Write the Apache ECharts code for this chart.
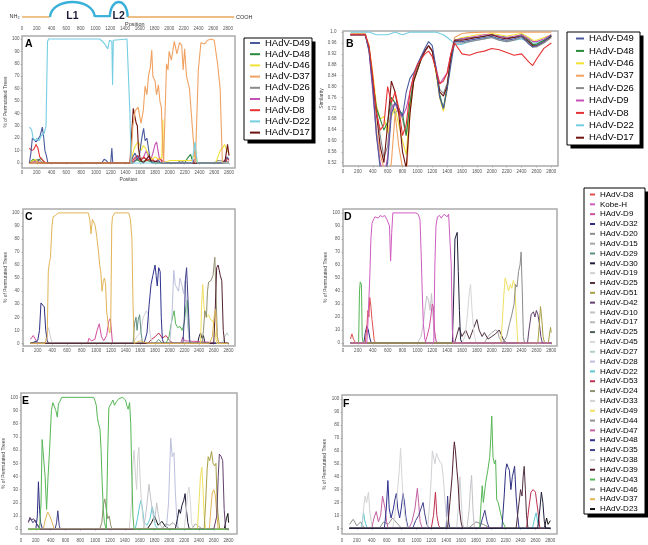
<!DOCTYPE html>
<html>
<head>
<meta charset="utf-8">
<script src="https://cdn.jsdelivr.net/npm/echarts@6/dist/echarts.min.js"></script>
<style>html,body{margin:0;padding:0;background:#fff}#chart{width:648px;height:545px}</style>
</head>
<body>
<div id="chart"></div>
<script>
// ---- ticks ----
const POS_TICKS = [0,200,400,600,800,1000,1200,1400,1600,1800,2000,2200,2400,2600,2800];
const PCT_TICKS = [0,10,20,30,40,50,60,70,80,90,100];
const SIM_TICKS = [0.52,0.56,0.60,0.64,0.68,0.72,0.76,0.80,0.84,0.88,0.92,0.96,1.0];

// ---- gene schematic (positions) ----
const DOMAINS = [
  { kind: 0, from: 0, to: 380 },
  { kind: 1, from: 380, to: 990, label: 'L1' },
  { kind: 2, from: 990, to: 1193 },
  { kind: 1, from: 1193, to: 1437, label: 'L2' },
  { kind: 0, from: 1437, to: 2885 }
];

// ---- legend names ----
const AB_NAMES = ['HAdV-D49','HAdV-D48','HAdV-D46','HAdV-D37','HAdV-D26','HAdV-D9','HAdV-D8','HAdV-D22','HAdV-D17'];
const BIG_NAMES_1 = ['HAdV-D8','Kobe-H','HAdV-D9','HAdV-D32','HAdV-D20','HAdV-D15','HAdV-D29','HAdV-D30','HAdV-D19','HAdV-D25','HAdV-D51','HAdV-D42','HAdV-D10','HAdV-D17'];
const BIG_NAMES_2 = ['HAdV-D25','HAdV-D45','HAdV-D27','HAdV-D28','HAdV-D22','HAdV-D53','HAdV-D24','HAdV-D33','HAdV-D49','HAdV-D44','HAdV-D47','HAdV-D48','HAdV-D35','HAdV-D38','HAdV-D39','HAdV-D43','HAdV-D46','HAdV-D37','HAdV-D23'];

// ---- panel A: bootscan, % of permutated trees ----
const A_D49 = [[100,0],[120,8],[140,20],[165,21],[190,17],[215,19],[245,22],[275,29],[295,20],[310,10],[330,6],[350,0],[1080,0],[1110,3],[1140,2],[1170,0],[1200,0],[1215,12],[1228,0],[1470,0],[1500,5],[1530,8],[1560,3],[1590,7],[1620,20],[1645,28],[1665,18],[1690,20],[1705,21],[1730,4],[1760,0],[1850,2],[1880,0],[2740,0],[2770,5],[2800,3]];
const A_D48 = [[100,0],[150,3],[200,1],[260,4],[300,0],[1500,0],[1550,3],[1600,1],[1700,2],[1800,0],[2200,0],[2240,4],[2280,7],[2300,3],[2340,0],[2800,0]];
const A_D46 = [[100,0],[180,3],[220,0],[1480,0],[1500,8],[1520,12],[1545,15],[1565,17],[1590,15],[1610,10],[1640,14],[1670,12],[1700,8],[1730,5],[1760,3],[1800,5],[1850,3],[1890,4],[1905,35],[1915,0],[2000,2],[2300,2],[2350,10],[2370,0],[2620,0],[2650,5],[2680,10],[2710,12],[2740,15],[2770,10],[2800,8]];
const A_D37 = [[100,0],[1470,0],[1500,30],[1530,42],[1570,45],[1610,32],[1640,42],[1665,62],[1690,55],[1710,70],[1735,77],[1755,91],[1770,70],[1800,66],[1820,55],[1845,63],[1865,50],[1885,45],[1905,10],[1915,0],[1935,40],[1955,80],[1975,75],[1990,90],[2020,83],[2060,98],[2095,88],[2130,97],[2160,95],[2180,75],[2200,92],[2225,70],[2265,60],[2290,40],[2315,20],[2345,0],[2365,0],[2385,75],[2420,97],[2470,96],[2510,99],[2560,100],[2600,99],[2645,80],[2680,60],[2710,0],[2800,0]];
const A_D26 = [[100,0],[160,2],[230,3],[280,0],[1480,0],[1540,2],[1620,4],[1700,3],[1760,0],[2100,0],[2150,2],[2200,0],[2600,0],[2650,2],[2800,1]];
const A_D9 = [[100,0],[200,2],[250,0],[1500,0],[1530,3],[1560,6],[1600,2],[1640,4],[1680,10],[1710,5],[1740,2],[1770,8],[1800,15],[1820,17],[1840,10],[1860,3],[1900,2],[1950,0],[2300,0],[2330,3],[2360,0],[2800,0]];
const A_D8 = [[100,12],[130,10],[160,11],[190,15],[215,12],[240,5],[270,3],[300,1],[330,0],[1480,0],[1520,4],[1560,6],[1600,2],[1650,5],[1690,2],[1750,4],[1800,1],[1870,4],[1900,0],[2750,0],[2780,4],[2800,2]];
const A_D22 = [[100,29],[130,27],[150,20],[180,18],[200,20],[230,18],[260,22],[300,24],[325,30],[345,98],[360,100],[1050,100],[1090,98],[1130,95],[1160,92],[1185,99],[1205,100],[1215,98],[1225,63],[1235,99],[1250,100],[1420,100],[1440,99],[1460,40],[1475,0],[2300,0],[2340,17],[2370,0],[2800,0]];
const A_D17 = [[100,0],[1460,0],[1480,20],[1505,44],[1525,38],[1545,32],[1560,30],[1575,12],[1600,3],[1640,0],[1720,6],[1740,2],[1900,0],[2720,0],[2750,3],[2780,15],[2800,6]];

// ---- panel B: similarity ----
const B_POS = [100,200,300,350,400,450,500,550,600,650,700,750,800,850,900,950,1000,1050,1100,1150,1200,1250,1300,1350,1400,1450,1500,1600,1700,1800,1900,2000,2100,2200,2300,2400,2500,2550,2600,2700,2800];
const B_D49 = [.99,.99,.99,.93,.80,.62,.50,.47,.52,.70,.74,.72,.69,.78,.83,.85,.88,.91,.94,.965,.95,.87,.76,.72,.79,.88,.965,.965,.97,.975,.98,.985,.975,.97,.975,.985,.955,.945,.95,.965,.99];
const B_D48 = [.99,.99,.99,.94,.82,.72,.68,.64,.67,.76,.74,.71,.70,.62,.74,.82,.86,.90,.93,.95,.93,.86,.77,.72,.80,.90,.97,.975,.98,.98,.985,.99,.985,.98,.98,.99,.97,.955,.955,.97,.985];
const B_D46 = [.99,.99,.99,.95,.85,.73,.68,.69,.63,.69,.72,.66,.60,.55,.72,.82,.86,.90,.93,.95,.93,.85,.76,.71,.79,.90,.97,.98,.985,.99,.99,.995,.99,.985,.99,.995,.98,.97,.97,.98,.99];
const B_D37 = [.995,.995,.995,.94,.80,.64,.55,.50,.46,.52,.70,.58,.50,.46,.70,.82,.86,.90,.93,.95,.93,.86,.76,.71,.80,.92,.98,.995,.998,.999,1,1,1,1,1,1,1,1,1,1,1];
const B_D26 = [.99,.99,.99,.94,.82,.72,.62,.54,.58,.74,.70,.72,.68,.62,.74,.83,.87,.90,.93,.95,.93,.86,.79,.775,.81,.90,.96,.96,.965,.97,.975,.98,.97,.965,.97,.98,.96,.945,.945,.96,.98];
const B_D9 = [.99,.99,.99,.93,.78,.62,.52,.47,.54,.72,.74,.70,.69,.72,.78,.84,.88,.91,.93,.95,.93,.87,.81,.83,.85,.92,.97,.975,.98,.985,.99,.99,.985,.98,.985,.99,.975,.965,.965,.975,.99];
const B_D8 = [.99,.99,.99,.95,.84,.70,.64,.66,.80,.74,.78,.72,.62,.66,.78,.84,.88,.90,.92,.93,.91,.86,.81,.82,.85,.92,.96,.92,.915,.925,.93,.94,.935,.925,.915,.92,.89,.877,.90,.94,.96];
const B_D22 = [1,1,1,1,.995,.99,.99,.99,.99,.995,1,.995,.99,.995,1,1,1,1,1,1,1,1,.995,.99,.98,.97,.955,.955,.965,.97,.975,.98,.97,.965,.97,.975,.965,.96,.96,.97,.985];
const B_D17 = [.99,.99,.99,.94,.82,.70,.58,.52,.66,.82,.78,.70,.56,.50,.70,.82,.86,.90,.93,.95,.93,.86,.78,.765,.80,.91,.97,.97,.975,.98,.985,.99,.98,.975,.98,.985,.965,.95,.95,.965,.985];

// ---- panel C ----
const C_D37 = [[100,0],[300,0],[330,5],[345,55],[360,62],[375,66],[395,90],[410,97],[440,98],[480,100],[890,100],[910,95],[928,84],[945,95],[965,93],[985,90],[1005,82],[1030,70],[1045,60],[1060,55],[1078,40],[1095,48],[1110,50],[1125,46],[1140,25],[1160,15],[1180,8],[1195,10],[1210,90],[1220,97],[1250,100],[1440,100],[1465,95],[1485,80],[1500,30],[1515,0],[1600,2],[1700,0],[2540,0],[2580,5],[2610,22],[2625,26],[2645,5],[2670,0],[2800,0]];
const C_D32 = [[100,0],[200,2],[225,10],[245,31],[270,30],[290,28],[310,10],[330,2],[350,0],[2800,0]];
const C_D19 = [[100,0],[300,0],[330,8],[350,12],[370,6],[400,0],[1500,0],[1550,5],[1600,8],[1640,20],[1680,25],[1710,22],[1730,8],[1760,0],[2800,0]];
const C_D9 = [[100,3],[140,6],[180,2],[210,0],[880,0],[900,4],[930,2],[980,3],[1010,10],[1040,15],[1070,5],[1100,2],[1140,6],[1170,17],[1190,19],[1205,10],[1220,0],[2150,0],[2180,5],[2200,2],[2800,0]];
const C_D29 = [[100,0],[1500,0],[1520,15],[1540,20],[1555,10],[1570,18],[1590,22],[1610,8],[1630,0],[1800,0],[1850,3],[1900,0],[2800,0]];
const C_D48 = [[100,0],[1650,0],[1690,8],[1720,30],[1745,45],[1770,52],[1800,60],[1815,52],[1830,44],[1850,58],[1870,55],[1885,20],[1900,3],[1920,0],[2800,0]];
const C_D28 = [[100,0],[2000,0],[2030,20],[2055,56],[2075,45],[2095,46],[2120,40],[2140,50],[2165,45],[2190,38],[2210,48],[2235,22],[2260,5],[2280,0],[2800,0]];
const C_D43 = [[100,0],[1950,0],[1990,5],[2030,18],[2060,25],[2080,15],[2110,12],[2140,13],[2170,10],[2200,16],[2220,28],[2240,33],[2255,12],[2270,2],[2300,0],[2800,0]];
const C_D35 = [[100,0],[2180,0],[2200,20],[2215,50],[2230,58],[2245,58],[2260,20],[2275,0],[2800,0]];
const C_D49 = [[100,0],[2420,0],[2435,30],[2450,45],[2465,30],[2480,22],[2500,20],[2530,22],[2560,18],[2590,17],[2605,18],[2620,8],[2640,0],[2800,0]];
const C_D24 = [[100,0],[2440,0],[2460,10],[2480,25],[2500,20],[2515,40],[2530,47],[2560,48],[2590,52],[2615,66],[2630,40],[2650,5],[2670,0],[2800,0]];
const C_D39 = [[100,0],[2600,0],[2620,25],[2640,58],[2660,60],[2690,52],[2710,48],[2730,10],[2750,0],[2800,0]];
const C_D27 = [[100,0],[2720,0],[2750,5],[2780,8],[2800,6]];
const C_D30 = [[100,0],[2380,0],[2400,5],[2420,8],[2440,4],[2460,6],[2480,0],[2800,0]];
const C_D53 = [[100,0],[1700,0],[1750,3],[1800,5],[1850,8],[1900,4],[1950,6],[2000,2],[2050,0],[2800,0]];

// ---- panel D ----
const D_KOBE = [[100,0],[320,0],[335,15],[345,30],[360,50],[375,80],[390,92],[410,95],[430,97],[450,98],[475,96],[500,98],[530,97],[560,98],[590,95],[610,96],[625,90],[640,63],[655,85],[670,100],[980,100],[1010,99],[1035,95],[1050,70],[1065,40],[1080,15],[1100,3],[1120,0],[1220,0],[1235,60],[1250,90],[1270,97],[1300,98],[1320,96],[1340,95],[1360,99],[1380,100],[1400,97],[1420,99],[1440,99],[1455,60],[1470,10],[1485,0],[2800,0]];
const D_D43 = [[100,0],[210,0],[222,40],[232,47],[248,45],[258,5],[270,0],[2800,0]];
const D_D8 = [[100,3],[120,7],[140,3],[170,0],[300,0],[320,12],[335,25],[348,20],[360,35],[375,28],[390,18],[405,10],[420,2],[440,0],[2800,0]];
const D_D32 = [[100,0],[280,0],[300,8],[320,13],[340,10],[360,4],[380,0],[2800,0]];
const D_D10 = [[100,0],[1000,0],[1050,5],[1080,15],[1100,25],[1125,36],[1150,33],[1170,25],[1190,38],[1210,20],[1230,5],[1260,0],[2800,0]];
const D_D9 = [[100,0],[1100,0],[1130,5],[1160,12],[1180,20],[1200,30],[1215,28],[1230,10],[1250,2],[1270,0],[2800,0]];
const D_D30 = [[100,0],[1470,0],[1490,40],[1505,80],[1535,85],[1550,55],[1565,25],[1580,3],[1600,0],[2800,0]];
const D_D38 = [[100,0],[1600,0],[1640,5],[1670,20],[1700,40],[1715,45],[1735,25],[1760,8],[1790,0],[2800,0]];
const D_D25 = [[100,0],[1500,0],[1560,12],[1600,5],[1650,10],[1700,3],[1760,12],[1800,18],[1830,10],[1870,5],[1900,8],[1950,3],[2000,5],[2050,7],[2100,10],[2130,6],[2160,2],[2200,0],[2800,0]];
const D_D49 = [[100,0],[2120,0],[2140,15],[2160,35],[2180,50],[2200,46],[2225,40],[2250,45],[2270,42],[2290,48],[2310,44],[2330,20],[2350,0],[2800,0]];
const D_D20 = [[100,0],[2150,0],[2200,5],[2240,15],[2270,22],[2300,30],[2320,45],[2340,43],[2360,55],[2380,60],[2395,70],[2410,40],[2425,5],[2440,0],[2800,0]];
const D_D42 = [[100,0],[2480,0],[2500,10],[2530,22],[2560,24],[2580,20],[2600,25],[2620,22],[2640,15],[2660,5],[2680,0],[2800,0]];
const D_D51 = [[100,0],[2620,0],[2640,15],[2655,28],[2670,20],[2690,5],[2710,0],[2760,0],[2790,12],[2800,8]];
const D_D15 = [[100,0],[1900,0],[1950,5],[2000,8],[2050,10],[2080,9],[2100,4],[2150,0],[2800,0]];

// ---- panel E ----
const E_D43 = [[100,0],[250,0],[270,20],[285,68],[310,68],[325,40],[345,15],[365,40],[385,60],[410,90],[430,96],[450,95],[470,90],[490,85],[505,95],[525,97],[550,100],[980,100],[1000,97],[1015,94],[1030,85],[1045,80],[1065,76],[1080,60],[1095,35],[1110,15],[1125,5],[1150,0],[1170,60],[1185,92],[1210,93],[1240,98],[1260,94],[1290,97],[1320,99],[1370,100],[1410,98],[1430,93],[1445,91],[1465,96],[1480,80],[1495,40],[1510,10],[1525,0],[2800,0]];
const E_D32 = [[100,0],[200,0],[220,10],[235,36],[250,15],[265,5],[290,0],[2800,0]];
const E_D42 = [[100,5],[120,9],[140,7],[170,8],[200,5],[230,3],[260,0],[2600,0],[2640,10],[2660,40],[2675,57],[2700,55],[2720,52],[2740,15],[2760,0],[2800,0]];
const E_D37 = [[100,0],[300,0],[330,8],[360,13],[390,10],[420,5],[450,0],[2540,0],[2560,15],[2580,28],[2600,30],[2620,26],[2640,12],[2660,0],[2800,0]];
const E_D35 = [[100,6],[130,8],[160,5],[190,7],[220,3],[260,0],[460,0],[480,5],[497,14],[515,3],[530,0],[2800,0]];
const E_D24 = [[100,0],[1060,0],[1090,5],[1110,18],[1130,23],[1150,15],[1170,8],[1190,10],[1210,3],[1230,0],[2800,0]];
const E_D33 = [[100,0],[1460,0],[1490,20],[1510,50],[1525,60],[1545,40],[1560,30],[1575,55],[1590,62],[1605,40],[1625,20],[1650,5],[1680,0],[2800,0]];
const E_D22 = [[100,0],[1540,0],[1570,8],[1600,18],[1620,22],[1640,15],[1660,5],[1700,3],[1740,8],[1770,17],[1790,12],[1810,3],[1850,0],[2800,0]];
const E_D10 = [[100,0],[1650,0],[1680,10],[1700,20],[1725,34],[1745,25],[1770,15],[1800,5],[1830,20],[1850,12],[1880,3],[1920,0],[2800,0]];
const E_D28 = [[100,0],[1960,0],[1990,20],[2005,45],[2019,69],[2040,55],[2064,58],[2080,30],[2100,10],[2120,0],[2800,0]];
const E_D30 = [[100,0],[2080,0],[2110,8],[2130,15],[2150,12],[2170,18],[2195,22],[2213,27],[2230,15],[2250,5],[2270,0],[2800,0]];
const E_D45 = [[100,0],[2200,0],[2230,15],[2250,28],[2267,32],[2285,20],[2300,5],[2320,0],[2800,0]];
const E_D49 = [[100,0],[2380,0],[2400,20],[2420,40],[2439,47],[2455,30],[2470,10],[2490,0],[2800,0]];
const E_D51 = [[100,0],[2470,0],[2490,20],[2510,45],[2525,55],[2545,52],[2570,59],[2590,50],[2610,48],[2629,50],[2645,20],[2660,10],[2680,0],[2800,0]];
const E_D23 = [[100,0],[1700,0],[1760,5],[1800,10],[1850,3],[1900,6],[1950,2],[2000,0],[2740,0],[2770,8],[2790,12],[2800,5]];
const E_D15 = [[100,0],[1900,0],[1950,4],[2000,3],[2050,5],[2100,2],[2150,0],[2300,0],[2350,4],[2400,2],[2450,0],[2800,0]];

// ---- panel F ----
const F_D33 = [[100,0],[270,0],[290,15],[311,25],[330,20],[356,28],[375,12],[400,3],[430,0],[2800,0]];
const F_D22 = [[100,0],[260,0],[290,12],[310,5],[340,0],[2560,0],[2590,8],[2610,12],[2630,5],[2660,0],[2800,0]];
const F_D47 = [[100,0],[400,0],[430,8],[460,13],[490,5],[520,10],[545,25],[563,26],[580,15],[600,5],[620,0],[900,0],[940,5],[980,15],[1013,31],[1030,20],[1050,5],[1080,0],[2800,0]];
const F_D48 = [[100,0],[570,0],[595,15],[617,37],[635,15],[660,8],[690,15],[710,22],[730,27],[750,15],[775,8],[795,15],[820,27],[840,20],[860,8],[890,0],[2800,0]];
const F_D38 = [[100,0],[680,0],[710,10],[740,25],[770,45],[788,62],[805,40],[825,20],[850,8],[880,0],[2800,0]];
const F_D35 = [[100,0],[950,0],[990,6],[1030,10],[1060,15],[1090,20],[1110,12],[1140,3],[1170,0],[1400,0],[1420,25],[1435,5],[1450,0],[1850,0],[1890,8],[1920,14],[1950,5],[1980,0],[2800,0]];
const F_D19 = [[100,0],[1150,0],[1180,20],[1200,40],[1215,60],[1234,61],[1250,50],[1270,58],[1290,55],[1310,52],[1340,50],[1360,40],[1380,25],[1400,10],[1420,0],[1540,0],[1570,20],[1585,40],[1600,25],[1620,5],[1640,0],[2800,0]];
const F_D53 = [[100,0],[1200,0],[1230,10],[1256,28],[1275,10],[1300,2],[1330,0],[2480,0],[2510,15],[2540,28],[2570,30],[2600,28],[2630,15],[2660,0],[2800,0]];
const F_D39 = [[100,0],[1420,0],[1450,20],[1480,40],[1500,60],[1510,67],[1525,60],[1545,45],[1560,35],[1580,15],[1600,5],[1620,0],[2800,0]];
const F_D10 = [[100,0],[1680,0],[1710,15],[1725,30],[1742,41],[1760,15],[1780,0],[2800,0]];
const F_D43 = [[100,0],[1850,0],[1870,20],[1885,33],[1900,20],[1930,35],[1960,45],[1985,55],[2000,70],[2013,87],[2030,55],[2050,50],[2065,53],[2080,22],[2100,20],[2130,12],[2160,5],[2200,0],[2800,0]];
const F_D32 = [[100,0],[2150,0],[2180,25],[2200,45],[2215,50],[2235,47],[2250,45],[2270,30],[2290,40],[2320,48],[2340,25],[2360,10],[2380,0],[2800,0]];
const F_D25 = [[100,0],[2340,0],[2370,15],[2400,30],[2420,25],[2435,40],[2449,48],[2465,30],[2480,10],[2500,0],[2800,0]];
const F_D30 = [[100,0],[2630,0],[2660,15],[2680,28],[2700,20],[2720,5],[2740,0],[2800,0]];
const F_D23 = [[100,0],[2720,0],[2750,8],[2770,3],[2800,6]];
const F_D44 = [[100,3],[150,7],[200,2],[250,5],[300,0],[500,0],[560,5],[620,3],[680,8],[740,4],[800,0],[1700,0],[1800,5],[1900,3],[2000,0]];

// ---- styles ----
const COLORS_AB = {
  'HAdV-D49': '#4b5a9c', 'HAdV-D48': '#2a8a3c', 'HAdV-D46': '#f2e236', 'HAdV-D37': '#f0a262',
  'HAdV-D26': '#8a8a8a', 'HAdV-D9': '#c452b6', 'HAdV-D8': '#e63232', 'HAdV-D22': '#74cde2', 'HAdV-D17': '#6e1212'
};
const COLORS_BIG = {
  'HAdV-D8': '#e05050', 'Kobe-H': '#d05cc0', 'HAdV-D9': '#d04fa0', 'HAdV-D32': '#2e2e82', 'HAdV-D20': '#8c8c8c',
  'HAdV-D15': '#a4a4a4', 'HAdV-D29': '#5e8f80', 'HAdV-D30': '#1e1e3c', 'HAdV-D19': '#d0d0d6', 'HAdV-D25': '#503040',
  'HAdV-D51': '#a8a044', 'HAdV-D42': '#62406e', 'HAdV-D10': '#c2c2c8', 'HAdV-D17': '#b8b8b8', 'HAdV-D45': '#d8d8d8',
  'HAdV-D27': '#b2cccc', 'HAdV-D28': '#bcc0dc', 'HAdV-D22': '#5cc8d2', 'HAdV-D53': '#c03050', 'HAdV-D24': '#929070',
  'HAdV-D33': '#d2d2d2', 'HAdV-D49': '#f0e060', 'HAdV-D44': '#909090', 'HAdV-D47': '#c460a2', 'HAdV-D48': '#30328e',
  'HAdV-D35': '#40408a', 'HAdV-D38': '#d6d6d6', 'HAdV-D39': '#52202e', 'HAdV-D43': '#56b656', 'HAdV-D46': '#8a8a8a',
  'HAdV-D37': '#e2b456', 'HAdV-D23': '#111111'
};
const SECOND_D25 = '#4f5e50';
const FONT = 'Liberation Sans';
const BOX = '#ababab';
const ORANGE = '#eaa95e';
const BLUE = '#38b0da';

const panelA = [['HAdV-D26',A_D26],['HAdV-D48',A_D48],['HAdV-D9',A_D9],['HAdV-D8',A_D8],['HAdV-D46',A_D46],['HAdV-D49',A_D49],['HAdV-D17',A_D17],['HAdV-D37',A_D37],['HAdV-D22',A_D22]];
const panelB = [['HAdV-D22',B_D22],['HAdV-D37',B_D37],['HAdV-D26',B_D26],['HAdV-D46',B_D46],['HAdV-D48',B_D48],['HAdV-D9',B_D9],['HAdV-D17',B_D17],['HAdV-D49',B_D49],['HAdV-D8',B_D8]];
const panelC = [['HAdV-D53',C_D53],['HAdV-D30',C_D30],['HAdV-D27',C_D27],['HAdV-D9',C_D9],['HAdV-D19',C_D19],['HAdV-D29',C_D29],['HAdV-D43',C_D43],['HAdV-D28',C_D28],['HAdV-D32',C_D32],['HAdV-D48',C_D48],['HAdV-D35',C_D35],['HAdV-D49',C_D49],['HAdV-D24',C_D24],['HAdV-D39',C_D39],['HAdV-D37',C_D37]];
const panelD = [['HAdV-D15',D_D15],['HAdV-D25',D_D25],['HAdV-D32',D_D32],['HAdV-D8',D_D8],['HAdV-D43',D_D43],['HAdV-D10',D_D10],['HAdV-D9',D_D9],['HAdV-D38',D_D38],['HAdV-D30',D_D30],['HAdV-D49',D_D49],['HAdV-D20',D_D20],['HAdV-D42',D_D42],['HAdV-D51',D_D51],['Kobe-H',D_KOBE]];
const panelE = [['HAdV-D15',E_D15],['HAdV-D23',E_D23],['HAdV-D35',E_D35],['HAdV-D37',E_D37],['HAdV-D32',E_D32],['HAdV-D24',E_D24],['HAdV-D22',E_D22],['HAdV-D10',E_D10],['HAdV-D33',E_D33],['HAdV-D28',E_D28],['HAdV-D30',E_D30],['HAdV-D45',E_D45],['HAdV-D49',E_D49],['HAdV-D51',E_D51],['HAdV-D42',E_D42],['HAdV-D43',E_D43]];
const panelF = [['HAdV-D44',F_D44],['HAdV-D23',F_D23],['HAdV-D22',F_D22],['HAdV-D33',F_D33],['HAdV-D47',F_D47],['HAdV-D48',F_D48],['HAdV-D38',F_D38],['HAdV-D35',F_D35],['HAdV-D19',F_D19],['HAdV-D53',F_D53],['HAdV-D10',F_D10],['HAdV-D39',F_D39],['HAdV-D43',F_D43],['HAdV-D32',F_D32],['HAdV-D25',F_D25],['HAdV-D30',F_D30]];

const grids = [
  { left: 22, top: 0, width: 206, height: 22 },
  { left: 22, top: 36, width: 213, height: 132, show: true, borderColor: BOX, borderWidth: 1.5 },
  { left: 343, top: 31, width: 215, height: 135, show: true, borderColor: BOX, borderWidth: 1.5 },
  { left: 23, top: 209, width: 212, height: 137, show: true, borderColor: BOX, borderWidth: 1.5 },
  { left: 343, top: 209, width: 214, height: 137, show: true, borderColor: BOX, borderWidth: 1.5 },
  { left: 21, top: 393, width: 216, height: 141, show: true, borderColor: BOX, borderWidth: 1.5 },
  { left: 342, top: 395, width: 215, height: 139, show: true, borderColor: BOX, borderWidth: 1.5 }
];

const tickLabel = { fontSize: 4.5, color: '#555', fontFamily: FONT };
const plain = v => String(v);

function panelX(gridIndex, max, margin, name) {
  return {
    type: 'value', gridIndex, min: 0, max,
    axisLine: { show: false },
    axisTick: { show: true, length: 1.5, lineStyle: { color: '#888', width: 0.5 }, customValues: POS_TICKS },
    axisLabel: Object.assign({ margin, customValues: POS_TICKS, formatter: plain }, tickLabel),
    splitLine: { show: false },
    name: name || '', nameLocation: 'middle', nameGap: 9,
    nameTextStyle: { fontSize: 5, color: '#444', fontFamily: FONT }
  };
}
function panelY(gridIndex, min, max, name, nameGap, margin, ticks, fmt) {
  return {
    type: 'value', gridIndex, min, max,
    axisLine: { show: false },
    axisTick: { show: true, length: 1.5, lineStyle: { color: '#888', width: 0.5 }, customValues: ticks },
    axisLabel: Object.assign({ margin, customValues: ticks, formatter: fmt || plain }, tickLabel),
    splitLine: { show: false },
    name, nameLocation: 'middle', nameGap, nameRotate: 90,
    nameTextStyle: { fontSize: 5, color: '#444', fontFamily: FONT }
  };
}
const PCT = '% of Permutated Trees';
const simFmt = v => (v >= 0.999 ? '1.0' : v.toFixed(2));

const xAxes = [
  {
    type: 'value', gridIndex: 0, min: 0, max: 2800, interval: 200,
    axisLine: { show: false }, splitLine: { show: false },
    axisTick: { show: false },
    axisLabel: Object.assign({ margin: 4, formatter: plain }, tickLabel)
  },
  panelX(1, 2881, 2, 'Position'),
  panelX(2, 2890, 3),
  panelX(3, 2890, 2),
  panelX(4, 2877, 2),
  panelX(5, 2913, 4),
  panelX(6, 2890, 4)
];
const yAxes = [
  { type: 'value', gridIndex: 0, min: 0, max: 1, show: false },
  panelY(1, -4, 102.4, PCT, 13, 2.5, PCT_TICKS),
  panelY(2, 0.508, 1.004, 'Similarity', 14, 6.5, SIM_TICKS, simFmt),
  panelY(3, -2, 103, PCT, 14, 3.5, PCT_TICKS),
  panelY(4, -2.3, 103, PCT, 14, 3, PCT_TICKS),
  panelY(5, -3.6, 103.3, PCT, 13, 3, PCT_TICKS),
  panelY(6, -4.4, 103.3, PCT, 15, 2.7, PCT_TICKS)
];

function lineSeries(list, axis, colors, width) {
  return list.map(([name, data]) => ({
    name, type: 'line', xAxisIndex: axis, yAxisIndex: axis,
    data, showSymbol: false, symbol: 'none', silent: true, animation: false,
    itemStyle: { color: colors[name] },
    lineStyle: { color: colors[name], width }
  }));
}

const BASE = 0.23, ARCH_TOP = 0.91;
const schematic = {
  type: 'custom', xAxisIndex: 0, yAxisIndex: 0, silent: true, animation: false,
  data: DOMAINS.map(d => [d.from, d.to, d.kind]),
  renderItem(params, api) {
    const d = DOMAINS[params.dataIndex];
    const p0 = api.coord([api.value(0), BASE]);
    const p1 = api.coord([api.value(1), BASE]);
    if (d.kind === 1) {
      const top = api.coord([api.value(0), ARCH_TOP]);
      const cy = p0[1] - (p0[1] - top[1]) / 0.75;
      const w = p1[0] - p0[0];
      return {
        type: 'group', children: [
          { type: 'bezierCurve', shape: { x1: p0[0], y1: p0[1], x2: p1[0], y2: p1[1], cpx1: p0[0] + w * 0.04, cpy1: cy, cpx2: p1[0] - w * 0.04, cpy2: cy },
            style: { stroke: BLUE, lineWidth: 2.4, fill: null } },
          { type: 'text', style: { text: d.label, x: (p0[0] + p1[0]) / 2, y: p0[1] - 1, align: 'center', verticalAlign: 'middle',
            fontSize: 10.5, fontWeight: 'bold', fontFamily: FONT, fill: '#1b1b38' } }
        ]
      };
    }
    return {
      type: 'line', shape: { x1: p0[0], y1: p0[1] - (d.kind === 2 ? 0.8 : 0), x2: p1[0], y2: p1[1] - (d.kind === 2 ? 0.8 : 0) },
      style: { stroke: d.kind === 2 ? BLUE : ORANGE, lineWidth: d.kind === 2 ? 2.2 : 1.4 }
    };
  }
};

function legendData(names, colors, override) {
  return names.map((n, i) => ({ name: n, itemStyle: { color: (override && override[i]) || colors[n], borderWidth: 0 } }));
}
const legendBase = {
  orient: 'vertical', icon: 'rect', itemHeight: 2, padding: 0, selectedMode: false,
  textStyle: { color: '#000', fontFamily: FONT }
};
const legends = [
  Object.assign({}, legendBase, { left: 250, top: 38, itemWidth: 10, itemGap: 1.2, textStyle: Object.assign({}, legendBase.textStyle, { fontSize: 9.5 }), data: legendData(AB_NAMES, COLORS_AB) }),
  Object.assign({}, legendBase, { left: 576, top: 33.5, itemWidth: 8, itemGap: 2.4, textStyle: Object.assign({}, legendBase.textStyle, { fontSize: 9.5 }), data: legendData(AB_NAMES, COLORS_AB) }),
  Object.assign({}, legendBase, { left: 590, top: 190.5, itemWidth: 5, itemGap: 1.83, textStyle: Object.assign({}, legendBase.textStyle, { fontSize: 8 }), data: legendData(BIG_NAMES_1, COLORS_BIG) }),
  Object.assign({}, legendBase, { left: 590, top: 328.1, itemWidth: 5, itemGap: 1.83, textStyle: Object.assign({}, legendBase.textStyle, { fontSize: 8 }), data: legendData(BIG_NAMES_2, COLORS_BIG, [SECOND_D25]) })
];

function legendBox(x, y, w, h) {
  return [
    { type: 'rect', shape: { x: x + 3.5, y: y + 3.5, width: w, height: h }, style: { fill: '#000' } },
    { type: 'rect', shape: { x, y, width: w, height: h }, style: { fill: '#fff', stroke: '#000', lineWidth: 1 } }
  ];
}

const letter = (text, left, top) => ({ text, left, top, padding: 0, textStyle: { fontSize: 10.5, fontWeight: 'bold', color: '#000', fontFamily: FONT } });
const small = (text, left, top) => ({ text, left, top, padding: 0, textStyle: { fontSize: 5.5, fontWeight: 'normal', color: '#333', fontFamily: FONT } });

const option = {
  backgroundColor: '#fff',
  animation: false,
  title: [
    letter('A', 25, 39), letter('B', 346, 38.5), letter('C', 25, 211.5), letter('D', 344, 211.5), letter('E', 22, 395.5), letter('F', 343, 398.5),
    small('NH₂', 9.5, 13.5), small('COOH', 236, 14), small('Position', 125, 21)
  ],
  graphic: { elements: [].concat(legendBox(244, 38, 68, 102), legendBox(567, 32, 73, 113), legendBox(584, 188, 61, 326)) },
  grid: grids,
  xAxis: xAxes,
  yAxis: yAxes,
  legend: legends,
  series: [schematic].concat(
    lineSeries(panelA, 1, COLORS_AB, 1.1),
    lineSeries(panelB.map(([n, v]) => [n, B_POS.map((x, i) => [x, v[i]])]), 2, COLORS_AB, 1.1),
    lineSeries(panelC, 3, COLORS_BIG, 1),
    lineSeries(panelD, 4, COLORS_BIG, 1),
    lineSeries(panelE, 5, COLORS_BIG, 1),
    lineSeries(panelF, 6, COLORS_BIG, 1)
  )
};

const chart = echarts.init(document.getElementById('chart'), null, { renderer: 'canvas' });
chart.setOption(option);
window.addEventListener('resize', () => chart.resize());
</script>
</body>
</html>
